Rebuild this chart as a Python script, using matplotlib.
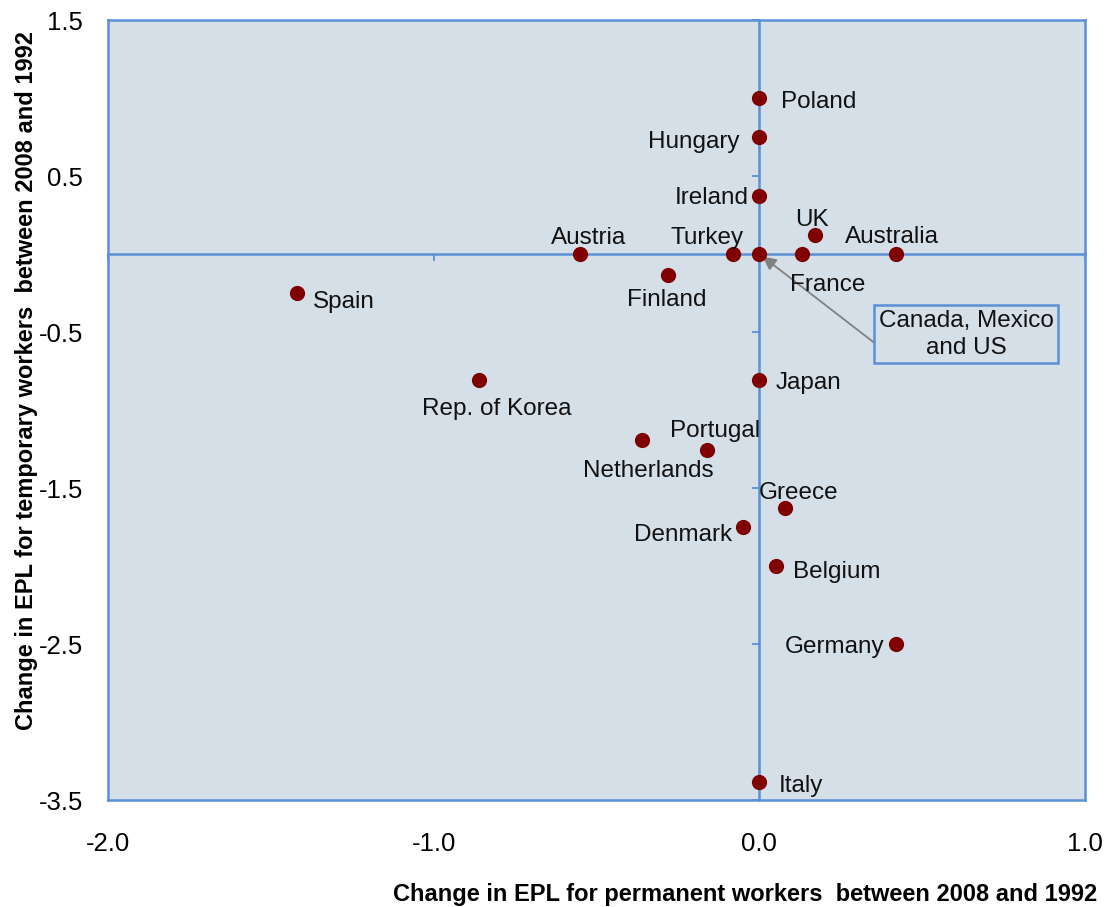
import matplotlib
matplotlib.use("Agg")
import matplotlib.pyplot as plt
import numpy as np

# ---- data ----
countries = ["Poland", "Hungary", "Ireland", "UK", "Australia", "France",
             "Canada/Mexico/US", "Turkey", "Austria", "Finland", "Spain",
             "Rep. of Korea", "Japan", "Netherlands", "Portugal", "Greece",
             "Denmark", "Belgium", "Germany", "Italy"]
perm_change = [0.0, 0.0, 0.0, 0.17, 0.42, 0.13,
               0.0, -0.08, -0.55, -0.28, -1.42,
               -0.86, 0.0, -0.36, -0.16, 0.08,
               -0.05, 0.05, 0.42, 0.0]
temp_change = [1.0, 0.75, 0.375, 0.125, 0.0, 0.0,
               0.0, 0.0, 0.0, -0.135, -0.25,
               -0.81, -0.81, -1.19, -1.255, -1.63,
               -1.75, -2.0, -2.5, -3.385]
labels = ["Poland", "Hungary", "Ireland", "UK", "Australia", "France",
          "", "Turkey", "Austria", "Finland", "Spain",
          "Rep. of Korea", "Japan", "Netherlands", "Portugal", "Greece",
          "Denmark", "Belgium", "Germany", "Italy"]
x_ticks = [-2.0, -1.0, 0.0, 1.0]
x_ticklabels = ["-2.0", "-1.0", "0.0", "1.0"]
y_ticks = [1.5, 0.5, -0.5, -1.5, -2.5, -3.5]
y_ticklabels = ["1.5", "0.5", "-0.5", "-1.5", "-2.5", "-3.5"]
callout_text = "Canada, Mexico\nand US"
x_title = "Change in EPL for permanent workers  between 2008 and 1992"
y_title = "Change in EPL for temporary workers  between 2008 and 1992"

# label offsets (pixels) and alignment
label_style = {
    "Poland": (22, 0, "left"), "Hungary": (-20, -1, "right"),
    "Ireland": (-11, 1, "right"), "UK": (-3, 19, "center"),
    "Australia": (-4, 21, "center"), "France": (26, -27, "center"),
    "Turkey": (-26, 20, "center"), "Austria": (8, 20, "center"),
    "Finland": (-1, -21, "center"), "Spain": (16, -5, "left"),
    "Rep. of Korea": (17, -25, "center"), "Japan": (16, 1, "left"),
    "Netherlands": (6, -27, "center"), "Portugal": (8, 23, "center"),
    "Greece": (13, 19, "center"), "Denmark": (-11, -4, "right"),
    "Belgium": (17, -2, "left"), "Germany": (-12, 1, "right"),
    "Italy": (19, 0, "left"),
}

BLUE = "#5B8FD8"
BG = "#D5DFE8"
RED = "#800000"
FONT = ["Liberation Sans", "DejaVu Sans"]

plt.rcParams["font.family"] = FONT

fig = plt.figure(figsize=(11.07, 9.07), dpi=100)
W, H = 1107, 907
ax = fig.add_axes([108 / W, 1 - 800 / H, (1085 - 108) / W, (800 - 20) / H])
ax.set_facecolor(BG)
ax.set_xlim(-2.0, 1.0)
ax.set_ylim(-3.5, 1.5)

# crossing axes at zero
ax.spines["left"].set_position(("data", 0))
ax.spines["bottom"].set_position(("data", 0))
for s in ["left", "bottom", "top", "right"]:
    ax.spines[s].set_color(BLUE)
    ax.spines[s].set_linewidth(1.8)
ax.set_xticks(x_ticks)
ax.set_yticks(y_ticks)
ax.tick_params(axis="both", direction="out", length=5, width=1.3, color=BLUE,
               labelleft=False, labelbottom=False)

# edge labels via secondary axes
secx = ax.secondary_xaxis(location=0)
secx.set_xticks(x_ticks, x_ticklabels)
secx.tick_params(length=0, pad=23, labelsize=18.5)
secx.spines["bottom"].set_color(BLUE)
secx.spines["bottom"].set_linewidth(1.8)
secy = ax.secondary_yaxis(location=0)
secy.set_yticks(y_ticks, y_ticklabels)
secy.tick_params(length=0, pad=18, labelsize=18.5)
secy.spines["left"].set_color(BLUE)
secy.spines["left"].set_linewidth(1.8)

ax.scatter(perm_change, temp_change, s=120, color=RED, zorder=5, linewidths=0)

for xv, yv, lab in zip(perm_change, temp_change, labels):
    if not lab:
        continue
    dx, dy, ha = label_style[lab]
    ax.annotate(lab, (xv, yv), xytext=(dx, dy - 4), textcoords="offset pixels",
                ha=ha, va="center", fontsize=17.5, color="#111111", zorder=6)

# callout
ax.annotate("", xy=(0.0, 0.0), xytext=(0.374, -0.603),
            arrowprops=dict(arrowstyle="-|>", color="#808080", lw=1.3,
                            mutation_scale=20, shrinkA=0, shrinkB=3), zorder=4)
ax.text(0.635, -0.515, callout_text, ha="center", va="center", fontsize=17.5,
        linespacing=1.3, color="#111111", zorder=6,
        bbox=dict(boxstyle="square,pad=0.18", facecolor=BG, edgecolor=BLUE, lw=1.8))

TFONT = ["Liberation Sans Narrow", "Liberation Sans"]
fig.text(745 / W, 1 - 894 / H, x_title, ha="center", va="center", fontsize=17,
         fontweight="bold", family=TFONT)
fig.text(27 / W, 1 - 381 / H, y_title, ha="center", va="center", fontsize=17,
         fontweight="bold", rotation=90, family=TFONT)

fig.savefig("out.png", dpi=100)
